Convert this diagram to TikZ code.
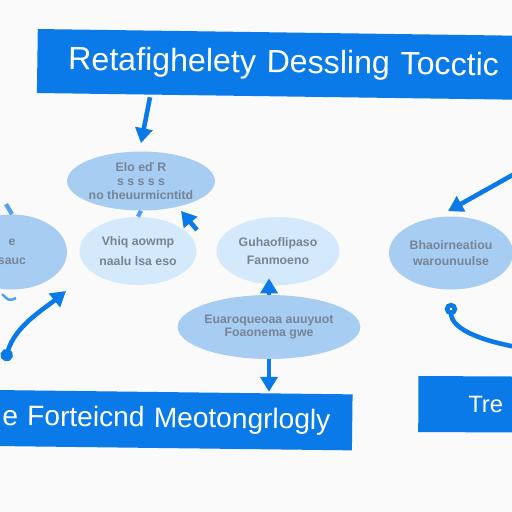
\documentclass[tikz,border=0pt]{standalone}
\usepackage{fontspec}
\setmainfont{Liberation Sans}
\usepackage{xcolor}
\usepackage{tikz}
\usetikzlibrary{arrows.meta,positioning,shapes.geometric,calc}
\definecolor{barblue}{RGB}{10,122,232}
\definecolor{ovaldark}{RGB}{168,205,243}
\definecolor{ovallight}{RGB}{212,233,251}
\definecolor{ovaltext}{RGB}{118,132,150}
\definecolor{stubblue}{RGB}{80,160,240}
\definecolor{paper}{RGB}{250,250,250}

\begin{document}
\begin{tikzpicture}[x=0.02cm, y=-0.02cm,
  bar/.style={fill=barblue, text=white, anchor=west, align=left},
  oval/.style={ellipse, inner sep=0pt, text=ovaltext, align=center,
    font=\bfseries\fontsize{7}{9}\selectfont},
  flow/.style={draw=barblue, line width=2.6pt,
    -{Triangle[length=0.3cm, width=0.34cm]}},
  stub/.style={draw=stubblue, line width=2.4pt},
]
\useasboundingbox (0,0) rectangle (512,512);
\clip (0,0) rectangle (512,512);
\fill[paper] (0,0) rectangle (512,512);

% --- Banners ---
\node[bar, rotate=-0.8, minimum height=1.28cm, inner xsep=0.62cm,
  text width=10cm, font=\fontsize{18.3}{21}\selectfont] (topbar)
  at (37,61) {\mbox{Retafighelety Dessling Tocctic}};
\node[bar, rotate=-0.7, minimum height=1.12cm, inner xsep=0.14cm,
  text width=6.86cm, font=\fontsize{16}{19}\selectfont] (botbar)
  at (-5,418) {\mbox{e Forteicnd Meotongrlogly}};
\node[bar, rotate=-0.3, minimum height=1.12cm, inner xsep=1cm,
  text width=2cm, font=\fontsize{13.5}{16}\selectfont] (sidebar)
  at (418,404) {\mbox{Tre}};

% --- Ovals ---
\node[oval, fill=ovaldark, minimum width=2.68cm, minimum height=1.18cm]
  (ell1) at (141,181) {Elo e\v{d} R\\[-1pt]s s s s s\\[-1pt]no theuurmicntitd};
\node[oval, fill=ovaldark, minimum width=2.2cm, minimum height=1.5cm]
  (leftell) at (12,252) {e\\[2pt]sauc};
\node[oval, fill=ovallight, minimum width=2.34cm, minimum height=1.36cm]
  (midleft) at (138,251) {Vhiq aowmp\\[2pt]naalu lsa eso};
\node[oval, fill=ovallight, minimum width=2.46cm, minimum height=1.36cm]
  (midell) at (278,251) {Guhaoflipaso\\[1pt]Fanmoeno};
\node[oval, fill=ovaldark, minimum width=2.48cm, minimum height=1.46cm]
  (rightell) at (451,253) {Bhaoirneatiou\\[0pt]warounuulse};
\node[oval, fill=ovaldark, minimum width=2.76cm, minimum height=1.28cm]
  (botell) at (269,327) {Euaroqueoaa auuyuot\\[-2pt]Foaonema gwe};

% --- Free ends ---
\coordinate (rin) at (525,168);
\coordinate (rout) at (522,348);
\coordinate (lstart) at (5,361);
\coordinate (lend) at (66,291);
\coordinate (hkfrom) at (197,230);
\coordinate (hkto) at (181,211);

% --- Connectors ---
\draw[stub] (ell1.south) -- (midleft.north);
\draw[stub] (leftell.north) -- ++(-6,-10);
\draw[draw=stubblue, line width=1.4pt] (2,294) .. controls (9,301) .. (16,298);
\draw[flow] ([xshift=0.18cm]ell1.north |- topbar.south) -- ([yshift=0.16cm]ell1.north);
\draw[flow] (rin) -- ([shift={(-0.06cm,0.1cm)}]rightell.north);
\draw[flow, {Circle[open, length=7pt]}-] ([yshift=-0.26cm]rightell.south)
  .. controls +(0,28) and +(-35,-6) .. (rout);
\draw[flow, {Circle[length=7pt]}-{Triangle[length=0.3cm, width=0.34cm]}] (lstart)
  .. controls +(10,-35) and +(-22,18) .. (lend);
\draw[flow] (hkfrom) -- (hkto);
\draw[flow] (botell.north) -- ([yshift=0.14cm]botell.north |- midell.south);
\draw[flow] (botell.south) -- (botell.south |- botbar.north);
\end{tikzpicture}
\end{document}
